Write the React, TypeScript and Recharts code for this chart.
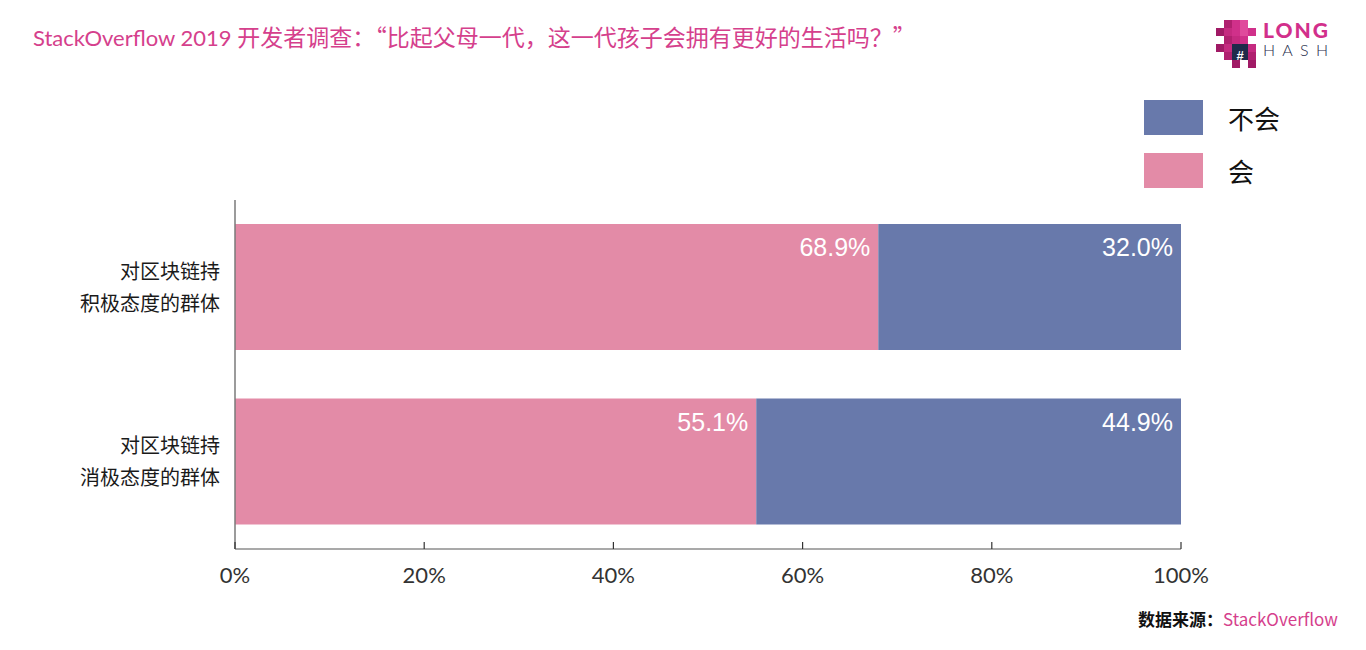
import { BarChart, Bar, XAxis, YAxis, LabelList } from "recharts";

const groups = ["对区块链持\n积极态度的群体", "对区块链持\n消极态度的群体"];
// bar lengths as drawn (the first pink bar ends at 68%, its label says 68.9%)
const yesValues = [68.0, 55.1];
const noValues = [32.0, 44.9];
const yesLabels = ["68.9%", "55.1%"];
const noLabels = ["32.0%", "44.9%"];
const xTicks = [0, 20, 40, 60, 80, 100];

const PINK = "#e38ba7";
const BLUE = "#6879ab";
const MAGENTA = "#d5408c";
const CJK = '"Noto Sans CJK SC", "Noto Sans", sans-serif';

const data = groups.map((g, i) => ({
  group: g,
  yes: yesValues[i],
  no: noValues[i],
  yesLabel: yesLabels[i],
  noLabel: noLabels[i],
}));

function CategoryTick({ x, y, payload }: any) {
  const lines = String(payload.value).split("\n");
  return (
    <text x={x} y={y} textAnchor="end" fill="#1a1a1a" fontSize={20} fontFamily={CJK}>
      {lines.map((l, i) => (
        <tspan key={i} x={x} y={y - 17 + i * 32} dominantBaseline="central">
          {l}
        </tspan>
      ))}
    </text>
  );
}

function PercentTick({ x, y, payload }: any) {
  return (
    <g>
      <line x1={x} x2={x} y1={y - 7} y2={y} stroke="#333" strokeWidth={1.2} />
      <text
        x={x}
        y={y + 25}
        textAnchor="middle"
        dominantBaseline="central"
        fill="#333"
        fontSize={22}
        fontFamily="Lato, sans-serif"
      >
        {payload.value}%
      </text>
    </g>
  );
}

function valueLabel(props: any) {
  const { x, y, width, value } = props;
  return (
    <text
      x={x + width - 8}
      y={y + 23}
      textAnchor="end"
      dominantBaseline="central"
      fill="#fff"
      fontSize={25}
      fontFamily='"Liberation Sans", Arial, sans-serif'
    >
      {value}
    </text>
  );
}

function Logo() {
  // rough pixel-dino mark beside the wordmark
  const px: [number, number, string][] = [
    [8, 0, "#b0206f"], [16, 0, "#d0308a"], [24, 0, "#e04a9c"],
    [0, 8, "#a01a65"], [8, 8, "#c52a80"], [16, 8, "#d0308a"], [24, 8, "#e04a9c"], [32, 8, "#d0308a"],
    [8, 16, "#b0206f"], [16, 16, "#c52a80"], [24, 16, "#d0308a"],
    [0, 24, "#a01a65"], [8, 24, "#c52a80"], [16, 24, "#1e2a4a"], [24, 24, "#1e2a4a"], [32, 24, "#c52a80"],
    [8, 32, "#b0206f"], [16, 32, "#1e2a4a"], [24, 32, "#1e2a4a"], [32, 32, "#b0206f"],
    [16, 40, "#a01a65"], [32, 40, "#a01a65"],
  ];
  return (
    <svg width={130} height={58} style={{ position: "absolute", left: 1212, top: 14 }}>
      <g transform="translate(4,6)">
        {px.map(([x, y, c], i) => (
          <rect key={i} x={x} y={y} width={8} height={8} fill={c} />
        ))}
        <text x={24} y={40} textAnchor="middle" fill="#fff" fontSize={13} fontWeight={700} fontFamily="Arial">
          #
        </text>
      </g>
      <text x={51} y={24} fill="#d22f8b" fontSize={21} fontWeight={900} fontFamily="Lato, sans-serif" textLength={65}>
        LONG
      </text>
      <text x={51} y={42} fill="#1e2a4a" fontSize={16} fontWeight={300} fontFamily="Lato, sans-serif" textLength={65}>
        HASH
      </text>
    </svg>
  );
}

export default function App() {
  return (
    <div style={{ position: "absolute", left: 0, top: 0, width: 1366, height: 650, background: "#fff" }}>
      <div
        style={{
          position: "absolute",
          left: 33,
          top: 19,
          color: MAGENTA,
          whiteSpace: "nowrap",
          lineHeight: "34px",
        }}
      >
        <span style={{ fontFamily: "Lato, sans-serif", fontSize: 22 }}>StackOverflow 2019 </span>
        <span style={{ fontFamily: CJK, fontSize: 23 }}>
          开发者调查：“比起父母一代，这一代孩子会拥有更好的生活吗？”
        </span>
      </div>
      <Logo />

      {[
        { label: "不会", color: BLUE, top: 100 },
        { label: "会", color: PINK, top: 153 },
      ].map((item) => (
        <div key={item.label} style={{ position: "absolute", left: 1144, top: item.top, height: 35, display: "flex", alignItems: "center" }}>
          <div style={{ width: 59, height: 35, background: item.color }} />
          <span style={{ marginLeft: 25, fontSize: 26, fontFamily: CJK, color: "#111" }}>{item.label}</span>
        </div>
      ))}

      <div style={{ position: "absolute", left: 0, top: 0 }}>
        <BarChart
          width={1366}
          height={650}
          data={data}
          layout="vertical"
          margin={{ top: 200, right: 185, left: 234, bottom: 71 }}
        >
          <XAxis
            type="number"
            domain={[0, 100]}
            ticks={xTicks}
            interval={0}
            height={30}
            tickSize={0}
            tickMargin={0}
            tickLine={false}
            axisLine={{ stroke: "#555", strokeWidth: 1.2 }}
            tick={<PercentTick />}
          />
          <YAxis
            type="category"
            dataKey="group"
            width={1}
            tickSize={0}
            tickMargin={15}
            tickLine={false}
            axisLine={{ stroke: "#7a7a7a", strokeWidth: 1.5 }}
            tick={<CategoryTick />}
          />
          <Bar dataKey="yes" stackId="a" fill={PINK} barSize={126} isAnimationActive={false}>
            <LabelList dataKey="yesLabel" content={valueLabel} />
          </Bar>
          <Bar dataKey="no" stackId="a" fill={BLUE} barSize={126} isAnimationActive={false}>
            <LabelList dataKey="noLabel" content={valueLabel} />
          </Bar>
        </BarChart>
      </div>

      <div
        style={{
          position: "absolute",
          right: 28,
          top: 606,
          fontSize: 17,
          fontFamily: CJK,
          whiteSpace: "nowrap",
        }}
      >
        <span style={{ fontWeight: 700, color: "#111" }}>数据来源：</span>
        <span style={{ color: MAGENTA }}>StackOverflow</span>
      </div>
    </div>
  );
}
